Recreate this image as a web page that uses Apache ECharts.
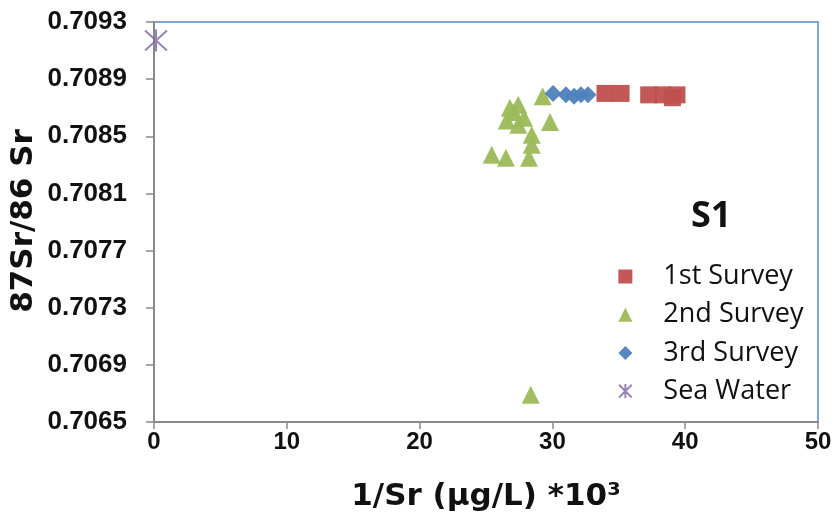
<!DOCTYPE html>
<html>
<head>
<meta charset="utf-8">
<script src="https://cdn.jsdelivr.net/npm/echarts@6/dist/echarts.min.js"></script>
<style>
  html, body { margin: 0; padding: 0; background: #ffffff; }
  #chart { width: 836px; height: 522px; }
</style>
</head>
<body>
<div id="chart"></div>
<script>
// Sr isotope ratio vs. inverse Sr concentration, station S1
const survey1 = [[33.96, 0.70880], [35.17, 0.70880], [37.25, 0.70879], [38.33, 0.70879], [39.04, 0.70877], [39.38, 0.70879]];
const survey2 = [
  [29.27, 0.70878], [26.80, 0.70870], [27.43, 0.70872], [26.56, 0.70861],
  [27.10, 0.70867], [27.86, 0.70863], [27.43, 0.70858], [28.44, 0.70851],
  [29.82, 0.70860], [28.44, 0.70844], [25.43, 0.70837], [26.50, 0.70835],
  [28.24, 0.70835], [28.37, 0.70669]
];
const survey3 = [[30.05, 0.70880], [31.02, 0.70879], [31.63, 0.70878], [32.15, 0.70879], [32.68, 0.70879]];
const seaWater = [[0.15, 0.70917]];

const seriesNames = ['1st Survey', '2nd Survey', '3rd Survey', 'Sea Water'];
const yTicks = [0.7065, 0.7069, 0.7073, 0.7077, 0.7081, 0.7085, 0.7089, 0.7093];
const xTicks = [0, 10, 20, 30, 40, 50];
const yTitle = '87Sr/86 Sr';

const asterisk = 'path://M0,1L20,21M20,1L0,21M10,0L10,22';

const chart = echarts.init(document.getElementById('chart'), null, { renderer: 'canvas' });

chart.setOption({
  backgroundColor: '#ffffff',
  animation: false,
  grid: {
    left: 154, right: 18, top: 22, bottom: 100,
    outerBoundsMode: 'none', containLabel: false,
    show: true, borderColor: '#7EA6D8', borderWidth: 2, backgroundColor: 'transparent'
  },
  xAxis: {
    type: 'value',
    min: xTicks[0], max: xTicks[xTicks.length - 1], interval: 10,
    name: '1/Sr (µg/L) *10³',
    nameLocation: 'middle', nameGap: 59, nameMoveOverlap: false,
    nameTextStyle: { fontFamily: 'DejaVu Sans', fontWeight: 'bold', fontSize: 31, color: '#111' },
    axisLine: { show: true, onZero: false, lineStyle: { color: '#8A8A8A', width: 2 } },
    axisTick: { show: true, length: 7, lineStyle: { color: '#8A8A8A', width: 1.5 } },
    axisLabel: { margin: 8, fontFamily: 'Liberation Sans', fontWeight: 'bold', fontSize: 24, color: '#111' },
    splitLine: { show: false }
  },
  yAxis: {
    type: 'value',
    min: yTicks[0], max: yTicks[yTicks.length - 1],
    axisLine: { show: true, onZero: false, lineStyle: { color: '#8A8A8A', width: 2 } },
    axisTick: { show: true, length: 8, customValues: yTicks, lineStyle: { color: '#8A8A8A', width: 1.5 } },
    axisLabel: {
      customValues: yTicks, margin: 27,
      fontFamily: 'Liberation Sans', fontWeight: 'bold', fontSize: 26, color: '#111',
      formatter: v => v.toFixed(4)
    },
    splitLine: { show: false }
  },
  legend: {
    orient: 'vertical', left: 613, top: 258,
    itemWidth: 14, itemHeight: 14, itemGap: 11.2,
    data: seriesNames,
    textStyle: { fontFamily: 'Open Sans', fontSize: 27, color: '#111', lineHeight: 24, padding: [0, 0, 0, 26] }
  },
  graphic: [
    {
      type: 'text', left: 691, top: 199,
      style: { text: 'S1', fontFamily: 'Open Sans', fontWeight: 'bold', fontSize: 36, fill: '#111' }
    },
    {
      type: 'text', x: 24, y: 221, rotation: Math.PI / 2,
      style: {
        text: yTitle, fontFamily: 'DejaVu Sans', fontWeight: 'bold', fontSize: 31, fill: '#111',
        align: 'center', verticalAlign: 'middle'
      }
    }
  ],
  series: [
    {
      name: seriesNames[0], type: 'scatter', data: survey1,
      symbol: 'rect', symbolSize: 17,
      itemStyle: { color: '#C0504D', opacity: 0.95 }
    },
    {
      name: seriesNames[1], type: 'scatter', data: survey2,
      symbol: 'triangle', symbolSize: 18,
      itemStyle: { color: '#9BBB59', opacity: 0.95 }
    },
    {
      name: seriesNames[2], type: 'scatter', data: survey3,
      symbol: 'diamond', symbolSize: 17,
      itemStyle: { color: '#4F81BD', opacity: 0.95 }
    },
    {
      name: seriesNames[3], type: 'scatter', data: seaWater,
      symbol: asterisk, symbolSize: 22,
      itemStyle: { color: 'rgba(0,0,0,0)', borderColor: '#8064A2', borderWidth: 2 }
    }
  ]
});
</script>
</body>
</html>
